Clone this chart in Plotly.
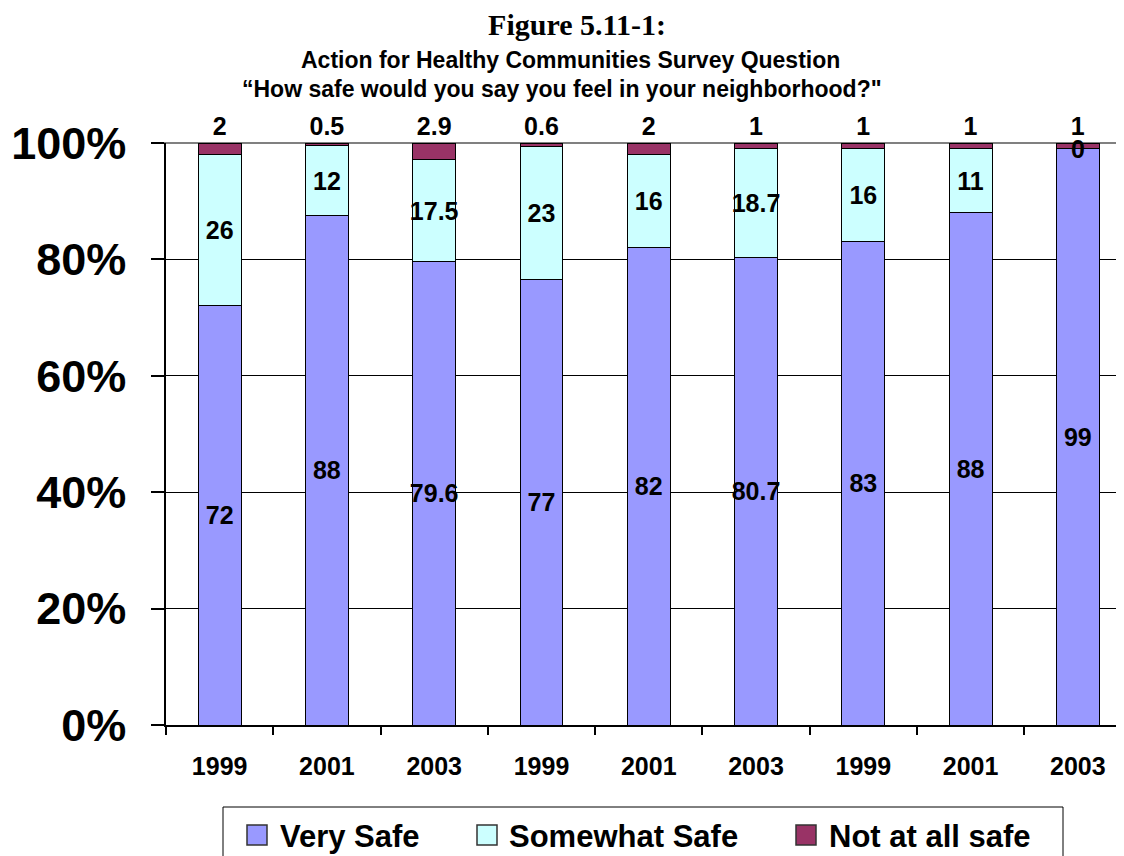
import plotly.graph_objects as go

# ---------------- data ----------------
categories = ["1999", "2001", "2003", "1999", "2001", "2003", "1999", "2001", "2003"]
very_safe = [72, 88, 79.6, 77, 82, 80.7, 83, 88, 99]
somewhat_safe = [26, 12, 17.5, 23, 16, 18.7, 16, 11, 0]
not_at_all_safe = [2, 0.5, 2.9, 0.6, 2, 1, 1, 1, 1]
series_names = ["Very Safe", "Somewhat Safe", "Not at all safe"]
y_tick_values = [0, 20, 40, 60, 80, 100]

title_line1 = "Figure 5.11-1:"
title_line2 = "Action for Healthy Communities Survey Question"
title_line3 = "\u201cHow safe would you say you feel in your neighborhood?\""

# ---------------- styles ----------------
series_colors = ["#9999FF", "#CCFFFF", "#993366"]
label_positions = ["inside", "inside", "outside"]
SANS = "Liberation Sans, Arial, sans-serif"
SERIF = "Liberation Serif, Times New Roman, serif"

# the page body has an 8px margin; lay out the figure in screenshot coordinates
OFF = 8
W, H = 1124 - OFF, 856 - OFF
PLOT_LEFT, PLOT_TOP, PLOT_BOTTOM = 166, 143, 725   # screenshot pixels
L = PLOT_LEFT - OFF
T = PLOT_TOP - OFF
B = H - (PLOT_BOTTOM - OFF)
R = 0
plot_w = W - L - R
plot_h = H - T - B


def px_x(px):
    return (px - PLOT_LEFT) / plot_w


def px_y(py):
    return (PLOT_BOTTOM - py) / plot_h


positions = list(range(len(categories)))
series_values = [very_safe, somewhat_safe, not_at_all_safe]
totals = [sum(v) for v in zip(*series_values)]

fig = go.Figure()
for name, vals, color, tpos in zip(series_names, series_values,
                                   series_colors, label_positions):
    fig.add_trace(go.Bar(
        x=positions,
        y=vals,
        name=name,
        width=0.4,
        marker=dict(color=color, line=dict(color="black", width=1)),
        text=[f"{v:g}" for v in vals],
        textposition=tpos,
        insidetextanchor="middle",
        constraintext="none",
        textangle=0,
        cliponaxis=False,
        textfont=dict(family=SANS, size=25, color="black", weight="bold"),
        showlegend=False,
        hovertemplate=name + ": %{y}<extra></extra>",
    ))

fig.update_layout(
    width=W, height=H,
    barmode="stack",
    barnorm="percent",
    paper_bgcolor="white",
    plot_bgcolor="white",
    margin=dict(l=L, r=R, t=T, b=B, pad=0),
    title=dict(
        text=title_line1,
        x=(577 - OFF) / W, xanchor="center", xref="container",
        y=1 - (24 - OFF) / H, yanchor="middle", yref="container",
        font=dict(family=SERIF, size=30, color="black", weight="bold"),
    ),
)

fig.update_xaxes(
    range=[-0.5, 8.43],
    tickmode="array",
    tickvals=positions,
    ticktext=categories,
    ticks="",
    showgrid=False,
    zeroline=False,
    showline=True, linecolor="black", linewidth=1.5,
    tickfont=dict(family=SANS, size=25, color="black", weight="bold"),
    ticklabelstandoff=18,
    minor=dict(
        tickmode="array",
        tickvals=[p - 0.5 for p in positions] + [positions[-1] + 0.5],
        ticks="outside", ticklen=8, tickcolor="black", tickwidth=1.5,
        showgrid=False,
    ),
)

fig.update_yaxes(
    range=[0, 100],
    tickmode="array",
    tickvals=y_tick_values,
    ticktext=[f"{v}%" for v in y_tick_values],
    ticks="outside", ticklen=13, tickcolor="black", tickwidth=1.5,
    showgrid=True, gridcolor="black", gridwidth=1,
    zeroline=False,
    showline=True, linecolor="black", linewidth=1.5,
    tickfont=dict(family=SANS, size=45, color="black", weight="bold"),
    ticklabelstandoff=16,
)

annotations = [
    dict(text=title_line2, x=px_x(570), y=px_y(60), xref="paper", yref="paper",
         xanchor="center", yanchor="middle", showarrow=False,
         font=dict(family=SANS, size=23, color="black", weight="bold")),
    dict(text=title_line3, x=px_x(562), y=px_y(89), xref="paper", yref="paper",
         xanchor="center", yanchor="middle", showarrow=False,
         font=dict(family=SANS, size=23, color="black", weight="bold")),
]

# labels for zero-height "Somewhat Safe" segments (the bar itself has no height to hold text)
for i, v in enumerate(somewhat_safe):
    if v == 0:
        annotations.append(dict(
            text=f"{v:g}", x=positions[i], y=very_safe[i] / totals[i] * 100,
            xref="x", yref="y", xanchor="center", yanchor="middle", showarrow=False,
            font=dict(family=SANS, size=25, color="black", weight="bold")))

shapes = [
    # gray top border line at 100%
    dict(type="line", xref="paper", yref="paper", x0=px_x(153), x1=1, y0=1, y1=1,
         line=dict(color="#808080", width=2), layer="between"),
    # legend frame
    dict(type="rect", xref="paper", yref="paper",
         x0=px_x(223), x1=px_x(1063), y0=px_y(807), y1=px_y(880),
         line=dict(color="black", width=1), fillcolor="rgba(0,0,0,0)", layer="above"),
]

legend_symbol_x = [247, 477, 796]
legend_text_x = [278, 507, 827]
for name, color, sx, tx in zip(series_names, series_colors, legend_symbol_x, legend_text_x):
    shapes.append(dict(type="rect", xref="paper", yref="paper",
                       x0=px_x(sx), x1=px_x(sx + 20), y0=px_y(825), y1=px_y(845),
                       line=dict(color="#333333", width=1.5), fillcolor=color, layer="above"))
    annotations.append(dict(text=name, x=px_x(tx), y=px_y(836), xref="paper", yref="paper",
                            xanchor="left", yanchor="middle", showarrow=False,
                            font=dict(family=SANS, size=31, color="black", weight="bold")))

fig.update_layout(annotations=annotations, shapes=shapes)

fig.write_html("out.html")
